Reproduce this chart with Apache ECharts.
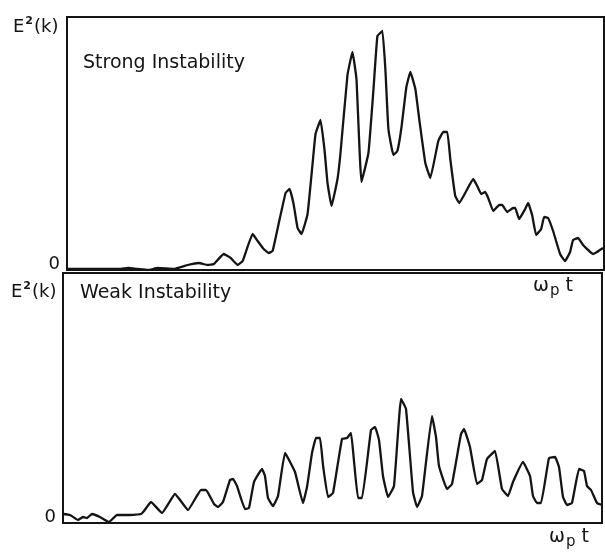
<!DOCTYPE html>
<html>
<head>
<meta charset="utf-8">
<script src="https://cdn.jsdelivr.net/npm/echarts@6/dist/echarts.min.js"></script>
<style>
  html, body { margin: 0; padding: 0; background: #fff; }
  #chart { width: 605px; height: 552px; }
</style>
</head>
<body>
<div id="chart"></div>
<script>
// Field energy E^2(k) versus ω_p t (arbitrary units) for two runs.
const strongT = [0, 54, 61, 71, 81, 91, 107, 121, 132, 141, 147, 157, 164, 171, 176, 186, 191, 197, 202, 206,
  212, 219, 223, 227, 231, 235, 241, 246, 249, 254, 258, 261, 265, 271, 274, 281, 286, 290, 295, 302,
  307, 311, 316, 319, 322, 327, 331, 335, 340, 344, 349, 353, 359, 364, 372, 377, 381, 384, 389, 393,
  400, 407, 411, 415, 419, 422, 427, 433, 436, 441, 447, 449, 453, 459, 462, 466, 470, 475, 478, 482,
  487, 494, 499, 504, 507, 512, 517, 527, 531, 537];
const strongE = [1, 1, 2, 1, 0, 2, 1, 5, 7, 5, 6, 16, 12, 5, 9, 36, 29, 21, 17, 19,
  46, 77, 81, 66, 42, 36, 56, 106, 136, 150, 120, 87, 64, 91, 117, 195, 218, 191, 88, 117,
  180, 234, 239, 200, 141, 115, 119, 142, 183, 198, 181, 150, 107, 92, 129, 138, 138, 111, 74, 67,
  79, 91, 84, 76, 78, 72, 59, 65, 65, 58, 62, 62, 51, 61, 67, 55, 35, 41, 53, 52,
  39, 16, 9, 18, 30, 32, 25, 16, 18, 22];

const weakT = [0, 7, 15, 20, 24, 29, 37, 46, 54, 60, 67, 78, 81, 88, 99, 112, 125, 138, 143, 151,
  155, 160, 167, 170, 174, 182, 186, 191, 199, 202, 205, 210, 215, 222, 232, 240, 244, 249, 253, 257,
  260, 265, 270, 279, 284, 288, 291, 295, 299, 308, 312, 316, 320, 325, 331, 338, 343, 350, 354, 359,
  369, 373, 376, 384, 389, 398, 401, 407, 414, 419, 424, 432, 439, 445, 450, 460, 467, 470, 474, 478,
  486, 492, 496, 500, 504, 509, 516, 521, 524, 528, 534, 539];
const weakE = [9, 8, 3, 6, 5, 9, 6, 1, 8, 8, 8, 9, 12, 21, 10, 29, 13, 33, 33, 19,
  16, 21, 43, 44, 37, 14, 15, 41, 54, 47, 25, 17, 27, 70, 51, 20, 36, 70, 85, 85,
  58, 26, 30, 84, 85, 90, 62, 25, 25, 93, 96, 83, 47, 26, 37, 124, 114, 31, 16, 27,
  107, 86, 57, 34, 39, 89, 94, 76, 39, 43, 64, 72, 34, 27, 41, 61, 47, 27, 20, 20,
  65, 66, 56, 26, 18, 20, 54, 52, 37, 33, 20, 18];

const panelTitles = ['Strong Instability', 'Weak Instability'];
const yLabel = '0';

const ink = '#141414';
const font = 'DejaVu Sans';

function pairs(t, e) { return t.map((v, i) => [v, e[i]]); }

function xAxis(gridIndex, max) {
  return {
    type: 'value', gridIndex, min: 0, max,
    axisLine: { show: true, onZero: false, lineStyle: { color: ink, width: 2 } },
    axisTick: { show: false }, axisLabel: { show: false }, splitLine: { show: false }
  };
}
function yAxis(gridIndex, max) {
  return {
    type: 'value', gridIndex, min: 0, max, interval: max,
    axisLine: { show: true, lineStyle: { color: ink, width: 2 } },
    axisTick: { show: false },
    axisLabel: {
      show: true, margin: 7, color: ink, fontFamily: font, fontSize: 18,
      verticalAlign: 'bottom', lineHeight: 12,
      formatter: v => (v === 0 ? yLabel : '')
    },
    splitLine: { show: false }
  };
}

const eLabel = (left, top) => ({
  type: 'text', left, top,
  style: {
    text: '{b|E}{s|2}{b|(k)}',
    rich: {
      b: { fontFamily: font, fontSize: 18, fill: ink, verticalAlign: 'bottom' },
      s: { fontFamily: font, fontSize: 11, fill: ink, fontWeight: 'bold', verticalAlign: 'top', padding: [0, 1, 9, 1] }
    }
  }
});
const wpt = (left, top) => ({
  type: 'text', left, top,
  style: {
    text: '{b|ω}{s|p}{b| t}',
    rich: {
      b: { fontFamily: font, fontSize: 19, fill: ink },
      s: { fontFamily: font, fontSize: 15, fill: ink, padding: [9, 0, 0, 1] }
    }
  }
});
const title = (text, left, top) => ({
  type: 'text', left, top,
  style: { text, fontFamily: font, fontSize: 19, fill: ink }
});

const chart = echarts.init(document.getElementById('chart'), null, { renderer: 'canvas' });
chart.setOption({
  backgroundColor: '#fff',
  animation: false,
  grid: [
    { left: 67, right: 1, top: 17, height: 253, show: true, borderColor: ink, borderWidth: 2, backgroundColor: 'transparent' },
    { left: 63, right: 3, top: 273, height: 250, show: true, borderColor: ink, borderWidth: 2, backgroundColor: 'transparent' }
  ],
  xAxis: [xAxis(0, 538), xAxis(1, 539)],
  yAxis: [yAxis(0, 253), yAxis(1, 250)],
  series: [
    {
      type: 'line', xAxisIndex: 0, yAxisIndex: 0, data: pairs(strongT, strongE),
      showSymbol: false, smooth: 0.1, lineStyle: { color: ink, width: 2.3 }
    },
    {
      type: 'line', xAxisIndex: 1, yAxisIndex: 1, data: pairs(weakT, weakE),
      showSymbol: false, smooth: 0.1, lineStyle: { color: ink, width: 2.3 }
    }
  ],
  graphic: [
    eLabel(13, 16),
    eLabel(11, 281),
    title(panelTitles[0], 83, 54),
    title(panelTitles[1], 80, 284),
    wpt(533, 277),
    wpt(549, 528)
  ]
});
</script>
</body>
</html>
